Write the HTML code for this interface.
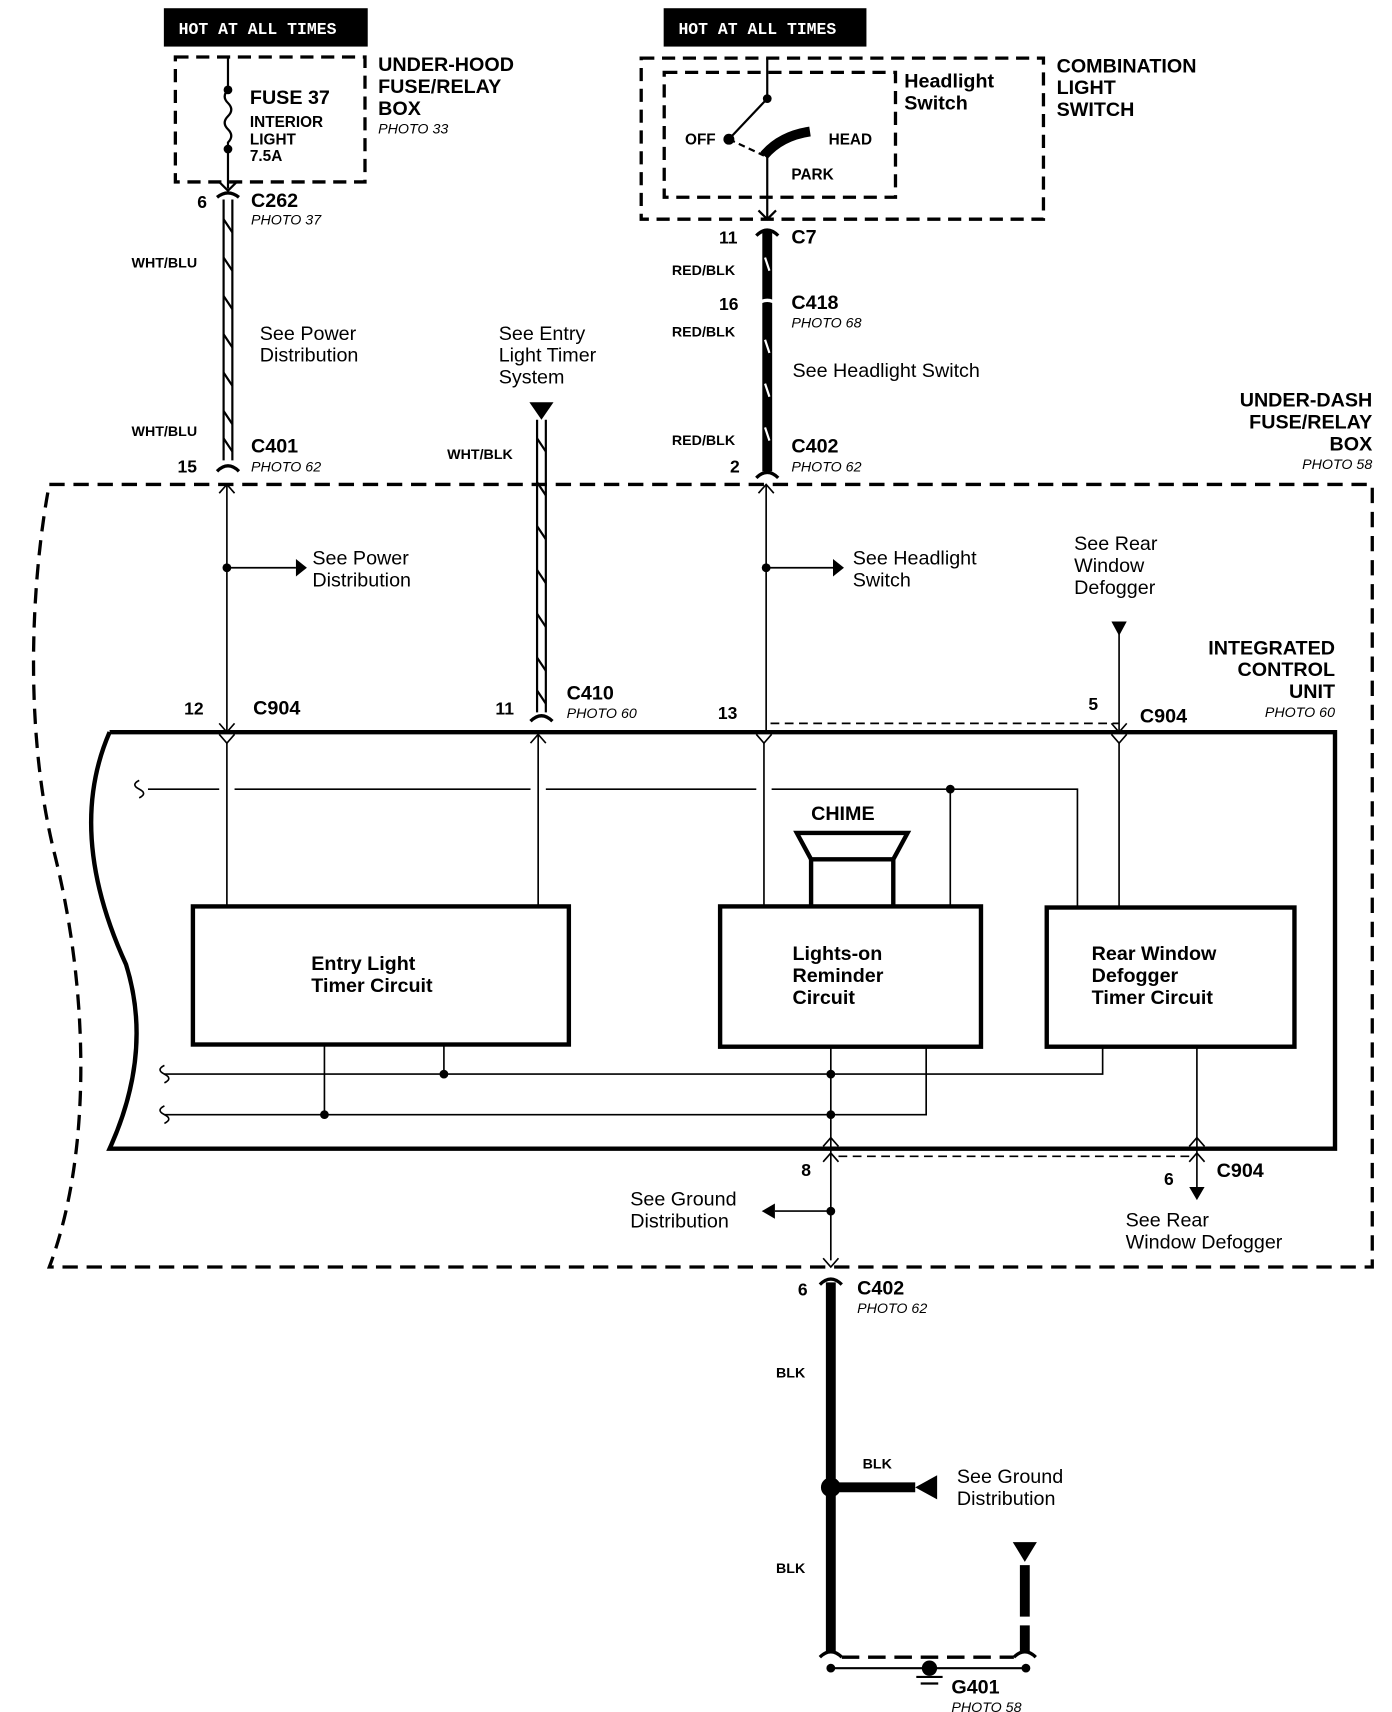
<!DOCTYPE html>
<html><head><meta charset="utf-8"><style>
html,body{margin:0;padding:0;background:#fff}
svg{display:block}
text{font-family:"Liberation Sans",sans-serif;fill:#000}
.b{font-weight:bold;font-size:18px}
.s{font-weight:bold;font-size:13px}
.i{font-style:italic;font-size:13px}
.n{font-size:18px}
</style></head><body>
<svg width="1392" height="1712" viewBox="0 0 1270 1562" preserveAspectRatio="none" xmlns="http://www.w3.org/2000/svg">
<g fill="none" stroke="#000">
<rect x="150" y="8" width="185" height="34" fill="#000"/>
<rect x="606" y="8" width="184" height="34" fill="#000"/>
<rect x="160" y="52" width="173" height="114" stroke-width="3" stroke-dasharray="12,7"/>
<line x1="208" y1="52" x2="208" y2="82" stroke-width="2"/>
<path d="M208 82 q-6 6 0 12 q6 6 0 12 q-6 6 0 12 q6 6 0 12 l0 6" stroke-width="2"/>
<line x1="208" y1="136" x2="208" y2="172" stroke-width="2"/>
<path d="M200 166 l8 8 l8 -8" stroke-width="2"/>
<path d="M198 180 q10 -8 20 0" stroke-width="3"/>
<line x1="204" y1="182" x2="204" y2="420" stroke-width="2"/>
<line x1="212" y1="182" x2="212" y2="420" stroke-width="2"/>
<path d="M198 430 q10 -10 20 0" stroke-width="3"/>
<rect x="585" y="53" width="367" height="147" stroke-width="3" stroke-dasharray="12,7"/>
<rect x="606" y="66" width="211" height="114" stroke-width="3" stroke-dasharray="12,7"/>
<line x1="700" y1="53" x2="700" y2="90" stroke-width="2"/>
<line x1="700" y1="90" x2="665" y2="127" stroke-width="2"/>
<path d="M665 127 l32 15" stroke-width="2" stroke-dasharray="6,4"/>
<path d="M697 142 q15 -18 42 -22" stroke-width="9"/>
<line x1="700" y1="142" x2="700" y2="200" stroke-width="2"/>
<path d="M692 192 l8 8 l8 -8" stroke-width="2"/>
<line x1="700" y1="210" x2="700" y2="430" stroke-width="9"/>
<path d="M690 215 q10 -10 20 0" stroke-width="3"/>
<path d="M690 278 q10 -8 20 0" stroke-width="3" stroke="#fff"/>
<path d="M690 436 q10 -10 20 0" stroke-width="3"/>
<line x1="490" y1="383" x2="490" y2="650" stroke-width="2"/>
<line x1="498" y1="383" x2="498" y2="650" stroke-width="2"/>
<path d="M484 658 q10 -10 20 0" stroke-width="3"/>
<path d="M45 442 L1252 442 L1252 1156 L45 1156 C85 1050 80 900 50 780 C20 660 30 520 45 442" stroke-width="3" stroke-dasharray="14,8"/>
<line x1="207" y1="442" x2="207" y2="668" stroke-width="1.5"/>
<path d="M200 450 l7 -8 l7 8 M200 660 l7 8 l7 -8" stroke-width="1.5"/>
<line x1="207" y1="518" x2="270" y2="518" stroke-width="1.5"/>
<line x1="699" y1="442" x2="699" y2="668" stroke-width="1.5"/>
<path d="M692 450 l7 -8 l7 8" stroke-width="1.5"/>
<line x1="699" y1="518" x2="760" y2="518" stroke-width="1.5"/>
<line x1="1021" y1="578" x2="1021" y2="668" stroke-width="1.5"/>
<path d="M1014 660 l7 8 l7 -8" stroke-width="1.5"/>
<path d="M703 660 L1021 660" stroke-width="1.5" stroke-dasharray="8,5"/>
<path d="M100 668 L1218 668 L1218 1048 L100 1048 Q140 960 115 880 Q60 760 100 668" stroke-width="4"/>
<path d="M200 670 l7 8 l7 -8 M484 678 l7 -8 l7 8 M690 670 l7 8 l7 -8 M1014 670 l7 8 l7 -8" stroke-width="1.5"/>
<line x1="207" y1="678" x2="207" y2="827" stroke-width="1.5"/>
<line x1="491" y1="670" x2="491" y2="827" stroke-width="1.5"/>
<line x1="697" y1="678" x2="697" y2="827" stroke-width="1.5"/>
<line x1="1021" y1="678" x2="1021" y2="827" stroke-width="1.5"/>
<path d="M135 720 L200 720 M214 720 L484 720 M498 720 L690 720 M704 720 L983 720 L983 827" stroke-width="1.5"/>
<line x1="867" y1="720" x2="867" y2="827" stroke-width="1.5"/>
<path d="M127 712 q-8 4 0 8 q8 4 0 8" stroke-width="1.5"/>
<rect x="176" y="827" width="343" height="126" stroke-width="4"/>
<rect x="657" y="827" width="238" height="128" stroke-width="4"/>
<rect x="955" y="828" width="226" height="127" stroke-width="4"/>
<path d="M727 760 L828 760 L815 784 L740 784 Z" stroke-width="4"/>
<path d="M740 784 L740 827 M815 784 L815 827" stroke-width="4"/>
<path d="M150 980 L1006 980 L1006 955" stroke-width="1.5"/>
<path d="M150 1017 L845 1017 L845 955" stroke-width="1.5"/>
<line x1="405" y1="953" x2="405" y2="980" stroke-width="1.5"/>
<line x1="296" y1="953" x2="296" y2="1017" stroke-width="1.5"/>
<path d="M150 972 q-8 4 0 8 q8 4 0 8 M150 1009 q-8 4 0 8 q8 4 0 8" stroke-width="1.5"/>
<line x1="758" y1="955" x2="758" y2="1150" stroke-width="1.5"/>
<line x1="1092" y1="955" x2="1092" y2="1085" stroke-width="1.5"/>
<path d="M751 1046 l7 -8 l7 8 M751 1060 l7 -8 l7 8 M1085 1046 l7 -8 l7 8 M1085 1060 l7 -8 l7 8 M751 1148 l7 8 l7 -8" stroke-width="1.5"/>
<path d="M765 1055 L1085 1055" stroke-width="1.5" stroke-dasharray="8,5"/>
<line x1="707" y1="1105" x2="758" y2="1105" stroke-width="1.5"/>
<path d="M748 1172 q10 -10 20 0" stroke-width="3"/>
<line x1="758" y1="1170" x2="758" y2="1508" stroke-width="9"/>
<line x1="758" y1="1357" x2="835" y2="1357" stroke-width="9"/>
<path d="M935 1428 L935 1475 M935 1483 L935 1508" stroke-width="9"/>
<path d="M748 1512 q10 -10 20 0 M925 1512 q10 -10 20 0" stroke-width="3"/>
<path d="M768 1512 L925 1512" stroke-width="3" stroke-dasharray="16,8"/>
<line x1="758" y1="1522" x2="936" y2="1522" stroke-width="2"/>
<path d="M836 1530 L860 1530 M840 1536 L856 1536" stroke-width="2"/>
</g>
<g stroke="#000" stroke-width="2">
<path d="M204 200 l8 12 M204 235 l8 12 M204 270 l8 12 M204 305 l8 12 M204 340 l8 12 M204 375 l8 12 M204 400 l8 12"/>
<path d="M490 400 l8 12 M490 440 l8 12 M490 480 l8 12 M490 520 l8 12 M490 560 l8 12 M490 600 l8 12 M490 630 l8 12"/>
</g>
<g stroke="#fff" stroke-width="2">
<path d="M698 235 l4 12 M698 310 l4 12 M698 350 l4 12 M698 390 l4 12"/>
</g>
<g fill="#000">
<circle cx="208" cy="82" r="4"/><circle cx="208" cy="136" r="4"/>
<circle cx="700" cy="90" r="4"/><circle cx="665" cy="127" r="5"/>
<circle cx="207" cy="518" r="4"/><circle cx="699" cy="518" r="4"/>
<circle cx="867" cy="720" r="4"/><circle cx="405" cy="980" r="4"/><circle cx="296" cy="1017" r="4"/>
<circle cx="758" cy="980" r="4"/><circle cx="758" cy="1017" r="4"/><circle cx="758" cy="1105" r="4"/>
<circle cx="758" cy="1357" r="9"/><circle cx="758" cy="1522" r="4"/><circle cx="936" cy="1522" r="4"/>
<circle cx="848" cy="1522" r="7"/>
<polygon points="270,510 280,518 270,526"/><polygon points="760,510 770,518 760,526"/>
<polygon points="483,367 505,367 494,383"/><polygon points="1014,567 1028,567 1021,580"/>
<polygon points="707,1098 695,1105 707,1112"/><polygon points="1085,1083 1099,1083 1092,1095"/>
<polygon points="855,1346 835,1357 855,1368"/><polygon points="924,1407 946,1407 935,1425"/>
</g>
<g>
<text x="163" y="31" class="s" style="fill:#fff;font-family:'Liberation Mono',monospace;font-size:15px">HOT AT ALL TIMES</text>
<text x="619" y="31" class="s" style="fill:#fff;font-family:'Liberation Mono',monospace;font-size:15px">HOT AT ALL TIMES</text>
<text x="228" y="95" class="b">FUSE 37</text>
<text x="228" y="116" class="s" style="font-size:14px">INTERIOR</text>
<text x="228" y="132" class="s" style="font-size:14px">LIGHT</text>
<text x="228" y="147" class="s" style="font-size:14px">7.5A</text>
<text x="345" y="65" class="b">UNDER-HOOD</text><text x="345" y="85" class="b">FUSE/RELAY</text><text x="345" y="105" class="b">BOX</text>
<text x="345" y="122" class="i">PHOTO 33</text>
<text x="180" y="190" class="b" style="font-size:16px">6</text><text x="229" y="189" class="b">C262</text><text x="229" y="205" class="i">PHOTO 37</text>
<text x="120" y="244" class="s">WHT/BLU</text><text x="120" y="398" class="s">WHT/BLU</text>
<text x="237" y="310" class="n">See Power</text><text x="237" y="330" class="n">Distribution</text>
<text x="162" y="431" class="b" style="font-size:16px">15</text><text x="229" y="413" class="b">C401</text><text x="229" y="430" class="i">PHOTO 62</text>
<text x="455" y="310" class="n">See Entry</text><text x="455" y="330" class="n">Light Timer</text><text x="455" y="350" class="n">System</text>
<text x="408" y="419" class="s">WHT/BLK</text>
<text x="825" y="80" class="b">Headlight</text><text x="825" y="100" class="b">Switch</text>
<text x="964" y="66" class="b">COMBINATION</text><text x="964" y="86" class="b">LIGHT</text><text x="964" y="106" class="b">SWITCH</text>
<text x="625" y="132" class="s" style="font-size:14px">OFF</text><text x="756" y="132" class="s" style="font-size:14px">HEAD</text><text x="722" y="164" class="s" style="font-size:14px">PARK</text>
<text x="656" y="222" class="b" style="font-size:16px">11</text><text x="722" y="222" class="b">C7</text>
<text x="613" y="251" class="s">RED/BLK</text><text x="613" y="307" class="s">RED/BLK</text><text x="613" y="406" class="s">RED/BLK</text>
<text x="656" y="283" class="b" style="font-size:16px">16</text><text x="722" y="282" class="b">C418</text><text x="722" y="299" class="i">PHOTO 68</text>
<text x="723" y="344" class="n">See Headlight Switch</text>
<text x="666" y="431" class="b" style="font-size:16px">2</text><text x="722" y="413" class="b">C402</text><text x="722" y="430" class="i">PHOTO 62</text>
<text x="1252" y="371" class="b" text-anchor="end">UNDER-DASH</text><text x="1252" y="391" class="b" text-anchor="end">FUSE/RELAY</text><text x="1252" y="411" class="b" text-anchor="end">BOX</text>
<text x="1252" y="428" class="i" text-anchor="end">PHOTO 58</text>
<text x="285" y="515" class="n">See Power</text><text x="285" y="535" class="n">Distribution</text>
<text x="778" y="515" class="n">See Headlight</text><text x="778" y="535" class="n">Switch</text>
<text x="980" y="502" class="n">See Rear</text><text x="980" y="522" class="n">Window</text><text x="980" y="542" class="n">Defogger</text>
<text x="1218" y="597" class="b" text-anchor="end">INTEGRATED</text><text x="1218" y="617" class="b" text-anchor="end">CONTROL</text><text x="1218" y="637" class="b" text-anchor="end">UNIT</text>
<text x="1218" y="654" class="i" text-anchor="end">PHOTO 60</text>
<text x="168" y="652" class="b" style="font-size:16px">12</text><text x="231" y="652" class="b">C904</text>
<text x="452" y="652" class="b" style="font-size:16px">11</text><text x="517" y="638" class="b">C410</text><text x="517" y="655" class="i">PHOTO 60</text>
<text x="655" y="656" class="b" style="font-size:16px">13</text>
<text x="993" y="648" class="b" style="font-size:16px">5</text><text x="1040" y="659" class="b">C904</text>
<text x="740" y="748" class="b">CHIME</text>
<text x="284" y="885" class="b">Entry Light</text><text x="284" y="905" class="b">Timer Circuit</text>
<text x="723" y="876" class="b">Lights-on</text><text x="723" y="896" class="b">Reminder</text><text x="723" y="916" class="b">Circuit</text>
<text x="996" y="876" class="b">Rear Window</text><text x="996" y="896" class="b">Defogger</text><text x="996" y="916" class="b">Timer Circuit</text>
<text x="731" y="1073" class="b" style="font-size:16px">8</text>
<text x="1062" y="1081" class="b" style="font-size:16px">6</text><text x="1110" y="1074" class="b">C904</text>
<text x="575" y="1100" class="n">See Ground</text><text x="575" y="1120" class="n">Distribution</text>
<text x="1027" y="1119" class="n">See Rear</text><text x="1027" y="1139" class="n">Window Defogger</text>
<text x="728" y="1182" class="b" style="font-size:16px">6</text><text x="782" y="1181" class="b">C402</text><text x="782" y="1198" class="i">PHOTO 62</text>
<text x="708" y="1257" class="s">BLK</text><text x="708" y="1435" class="s">BLK</text><text x="787" y="1340" class="s">BLK</text>
<text x="873" y="1353" class="n">See Ground</text><text x="873" y="1373" class="n">Distribution</text>
<text x="868" y="1545" class="b">G401</text><text x="868" y="1562" class="i">PHOTO 58</text>
</g>
</svg>
</body></html>
